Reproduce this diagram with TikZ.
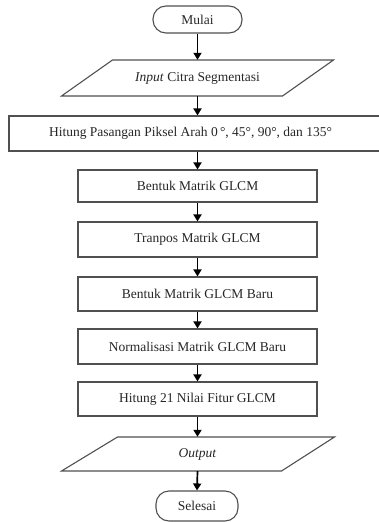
\documentclass[tikz,border=0pt]{standalone}
\usepackage{fontspec}
\setmainfont{Liberation Serif}
\usetikzlibrary{arrows.meta,calc}
\definecolor{edge}{HTML}{505050}
\definecolor{ink}{HTML}{262626}
\tikzset{
  every node/.style={text=ink,font=\fontsize{13.5}{16}\selectfont},
  procbox/.style={draw=edge,line width=1.1pt,minimum width=239pt,minimum height=34pt,inner sep=0pt},
  termbox/.style={draw=edge,line width=1.1pt,rounded corners=13pt,minimum height=27pt,inner sep=0pt},
  iobox/.style={minimum width=220pt,minimum height=36pt,inner sep=0pt},
  ioedge/.style={draw=edge,line width=1.1pt},
  flow/.style={draw=black,line width=1.7pt,-{Triangle[length=7pt,width=8pt]}}
}
\begin{document}
\begin{tikzpicture}[x=1pt,y=-1pt]
\useasboundingbox (0,0) rectangle (379,522);
\clip (0,0) rectangle (379,522);
% terminals, boxes and data blocks
\node[termbox,minimum width=89pt] (start) at (197.5,19.5) {Mulai};
\node[iobox] (in) at (197.5,78) {\textit{Input} Citra Segmentasi};
\draw[ioedge] ($(in.center)+(-85,-18)$) -- ($(in.center)+(136,-18)$) -- ($(in.center)+(85,18)$) -- ($(in.center)+(-136,18)$) -- cycle;
\node[draw=edge,line width=1.1pt,minimum width=380pt,minimum height=35pt,inner sep=0pt] (pair) at (199,133.5) {};
\node (pairtext) at (190.5,133.5) {Hitung Pasangan Piksel Arah 0\,°, 45°, 90°, dan 135°};
\node[procbox,minimum height=32pt] (glcm) at (197.5,186) {Bentuk Matrik GLCM};
\node[procbox,minimum height=35pt] (trans) at (197.5,239.5) {Tranpos Matrik GLCM};
\node[procbox] (newm) at (197.5,294) {Bentuk Matrik GLCM Baru};
\node[procbox,minimum height=35pt] (norm) at (197.5,346.5) {Normalisasi Matrik GLCM Baru};
\node[procbox] (feat) at (197.5,399) {Hitung 21 Nilai Fitur GLCM};
\node[iobox,minimum height=34pt] (out) at (197.5,454) {\textit{Output}};
\draw[ioedge] ($(out.center)+(-80,-17)$) -- ($(out.center)+(137,-17)$) -- ($(out.center)+(84,17)$) -- ($(out.center)+(-136,17)$) -- cycle;
\node[termbox,minimum width=82pt,minimum height=30pt] (stop) at (197,506) {Selesai};
% flow arrows
\draw[flow] (start.south) -- (in.north);
\draw[flow] (in.south) -- (in.south |- pair.north);
\draw[flow] (in.south |- pair.south) -- (glcm.north);
\draw[flow] (glcm.south) -- (trans.north);
\draw[flow] (trans.south) -- (newm.north);
\draw[flow] (newm.south) -- (norm.north);
\draw[flow] (norm.south) -- (feat.north);
\draw[flow] (feat.south) -- (out.north);
\draw[flow] (out.south) -- (stop.north);
\end{tikzpicture}
\end{document}
